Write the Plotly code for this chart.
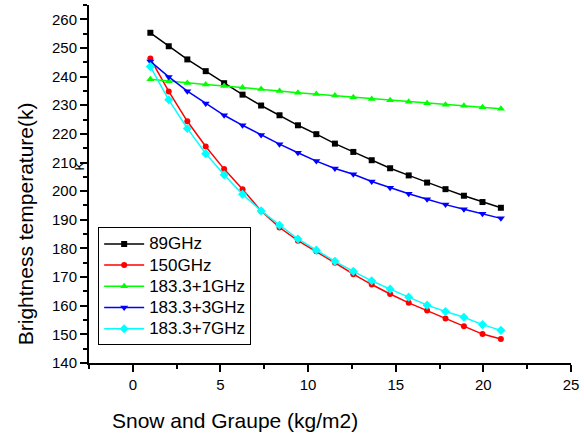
import plotly.graph_objects as go

# Data
x_vals = [1.00, 2.05, 3.11, 4.16, 5.21, 6.26, 7.32, 8.37, 9.42, 10.47,
          11.53, 12.58, 13.63, 14.68, 15.74, 16.79, 17.84, 18.89, 19.95, 21.00]
ghz89 = [255.3, 250.6, 246.0, 241.9, 237.7, 233.7, 229.9, 226.5, 223.0, 219.9,
         216.6, 213.7, 210.8, 208.0, 205.5, 203.0, 200.7, 198.4, 196.2, 194.2]
ghz150 = [246.3, 234.8, 224.4, 215.6, 207.7, 200.7, 193.1, 187.3, 182.7, 179.0,
          175.0, 171.0, 167.4, 164.1, 161.0, 158.3, 155.5, 152.8, 150.1, 148.4]
ghz183_1 = [239.1, 238.4, 237.8, 237.2, 236.7, 236.2, 235.7, 235.0, 234.4, 233.9,
            233.4, 232.8, 232.2, 231.7, 231.2, 230.7, 230.2, 229.8, 229.3, 228.8]
ghz183_3 = [245.3, 239.9, 234.9, 230.6, 226.5, 223.0, 219.6, 216.4, 213.4, 210.5,
            207.9, 205.9, 203.4, 201.2, 199.1, 197.2, 195.3, 193.7, 192.1, 190.5]
ghz183_7 = [243.5, 231.9, 221.9, 213.1, 205.7, 198.9, 193.1, 188.1, 183.3, 179.4,
            175.5, 172.0, 168.7, 165.8, 163.0, 160.2, 158.0, 156.0, 153.4, 151.4]
series_names = ["89GHz", "150GHz", "183.3+1GHz", "183.3+3GHz", "183.3+7GHz"]

series = [
    (series_names[0], ghz89, "#000000", "square", 6),
    (series_names[1], ghz150, "#FF0000", "circle", 6),
    (series_names[2], ghz183_1, "#00FF00", "triangle-up", 7),
    (series_names[3], ghz183_3, "#0000FF", "triangle-down", 7),
    (series_names[4], ghz183_7, "#00FFFF", "diamond", 7),
]

fig = go.Figure()
for name, ys, col, sym, sz in series:
    fig.add_trace(go.Scatter(
        x=x_vals, y=ys,
        name="<span style='font-size:17px'>" + name + "</span>",
        mode="lines+markers",
        line=dict(color=col, width=1.5),
        marker=dict(symbol=sym, size=sz, color=col),
    ))

font_family = "Arial, Liberation Sans, sans-serif"
fig.update_layout(
    width=584, height=435,
    margin=dict(l=89, r=7, t=5, b=72),
    paper_bgcolor="white", plot_bgcolor="white",
    font=dict(family=font_family, color="black", size=15),
    showlegend=True,
    legend=dict(
        x=0.019, y=0.379, xanchor="left", yanchor="top",
        bgcolor="white", bordercolor="black", borderwidth=1,
        font=dict(size=14, family=font_family, color="black"),
        itemwidth=40, tracegroupgap=0,
    ),
    xaxis=dict(
        range=[-2.5, 25], dtick=5, tick0=0,
        showgrid=False, zeroline=False,
        showline=True, linecolor="black", linewidth=2,
        ticks="outside", ticklen=7, tickwidth=1.5, tickcolor="black",
        minor=dict(dtick=2.5, tick0=0, ticks="outside", ticklen=4, tickwidth=1.5, tickcolor="black"),
        tickfont=dict(size=15), ticklabeloverflow="allow",
    ),
    yaxis=dict(
        range=[140, 265], dtick=10, tick0=0,
        showgrid=False, zeroline=False,
        showline=True, linecolor="black", linewidth=2,
        ticks="outside", ticklen=7, tickwidth=1.5, tickcolor="black",
        minor=dict(dtick=5, tick0=0, ticks="outside", ticklen=4, tickwidth=1.5, tickcolor="black"),
        tickfont=dict(size=15),
    ),
    annotations=[
        dict(text="Snow and Graupe (kg/m2)", xref="paper", yref="paper",
             x=0.3027, y=-0.162, xanchor="center", yanchor="middle",
             showarrow=False, font=dict(size=21)),
        dict(text="Brightness temperature(k)", xref="paper", yref="paper",
             x=-0.133, y=0.39, xanchor="center", yanchor="middle", textangle=-90,
             showarrow=False, font=dict(size=21)),
        dict(text="K", xref="paper", yref="paper",
             x=-0.02, y=0.55, xanchor="center", yanchor="middle", textangle=-90,
             showarrow=False, font=dict(size=13)),
    ],
)

fig.write_html("out.html")
